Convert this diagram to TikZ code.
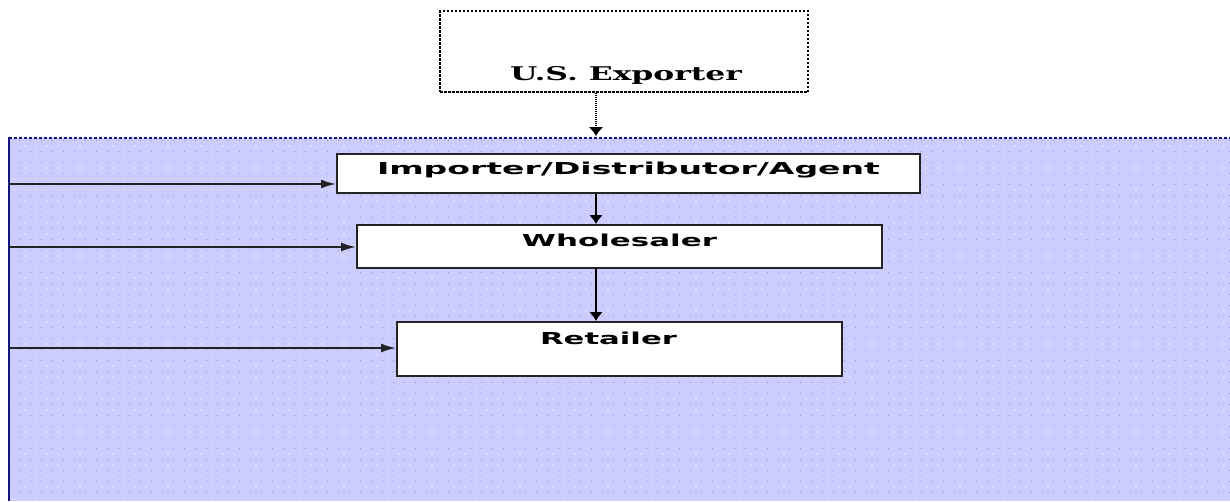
\documentclass[tikz,border=0pt]{standalone}
\usepackage{fontspec}
\usepackage{graphicx}
\usetikzlibrary{arrows.meta,patterns}
\newfontfamily\boxfont{DejaVu Sans}
\newfontfamily\expfont{DejaVu Serif}
\definecolor{bgblue}{RGB}{204,204,255}
\definecolor{dotblue}{RGB}{150,150,240}
\definecolor{navyline}{RGB}{20,20,130}
\definecolor{boxline}{RGB}{35,35,35}
\pgfdeclarepatternformonly{bgdotsA}{\pgfqpoint{-1pt}{-1pt}}{\pgfqpoint{12pt}{12pt}}{\pgfqpoint{11pt}{11pt}}{\pgfpathcircle{\pgfqpoint{3pt}{3pt}}{0.7pt}\pgfusepath{fill}}
\pgfdeclarepatternformonly{bgdotsB}{\pgfqpoint{-1pt}{-1pt}}{\pgfqpoint{12pt}{12pt}}{\pgfqpoint{11pt}{11pt}}{\pgfpathcircle{\pgfqpoint{8.5pt}{8.5pt}}{0.7pt}\pgfusepath{fill}}
\tikzset{
  flowbox/.style={draw=boxline, line width=2pt, fill=white, inner sep=0pt},
  exbox/.style={draw=black, line width=1.5pt, dash pattern=on 2.5pt off 1.5pt, fill=white, inner sep=0pt},
  hconn/.style={draw=boxline, line width=1.8pt, -{Latex[length=15pt,width=9pt]}},
  vconn/.style={draw=black, line width=1.8pt, -{Latex[length=9pt,width=14pt]}},
  exconn/.style={draw=black, line width=2.5pt, dash pattern=on 1pt off 1pt, -{Latex[length=9pt,width=15pt]}}
}
\begin{document}
\begin{tikzpicture}[x=1pt,y=-1pt]
\useasboundingbox (0,0) rectangle (1230,501);
% background region
\fill[bgblue] (9,138) rectangle (1230,501);
\fill[pattern=bgdotsA, pattern color=white] (9,138) rectangle (1230,501);
\fill[pattern=bgdotsB, pattern color=dotblue] (9,138) rectangle (1230,501);
\draw[navyline, line width=2pt, dash pattern=on 3pt off 2pt] (9,138) -- (1230,138);
\draw[navyline, line width=2pt] (9,137) -- (9,501);
% boxes
\node[exbox, minimum width=368pt, minimum height=81pt,
  label={[anchor=base, xshift=2pt, yshift=-24pt]center:\resizebox{232pt}{14pt}{\expfont\bfseries U.S. Exporter}}] (exp) at (624,51.5) {};
\node[flowbox, minimum width=583pt, minimum height=39pt,
  label={[anchor=base, yshift=-21pt]north:\resizebox{503pt}{12.5pt}{\boxfont\bfseries Importer/Distributor/Agent}}] (imp) at (628.5,173.5) {};
\node[flowbox, minimum width=525pt, minimum height=43pt,
  label={[anchor=base, yshift=-22pt]north:\resizebox{195pt}{12.5pt}{\boxfont\bfseries Wholesaler}}] (whl) at (619.5,246.5) {};
\node[flowbox, minimum width=445pt, minimum height=54pt,
  label={[anchor=base, xshift=-11pt, yshift=-23pt]north:\resizebox{137pt}{12.5pt}{\boxfont\bfseries Retailer}}] (ret) at (619.5,349) {};
% connector coordinates
\coordinate (top) at (596,136);
\coordinate (L1) at (9,184);
\coordinate (L2) at (9,247);
\coordinate (L3) at (9,348);
% connectors
\draw[exconn] (exp.south -| top) -- (top);
\draw[vconn] (imp.south -| top) -- (whl.north -| top);
\draw[vconn] (whl.south -| top) -- (ret.north -| top);
\draw[hconn] (L1) -- (L1 -| imp.west);
\draw[hconn] (L2) -- (L2 -| whl.west);
\draw[hconn] (L3) -- (L3 -| ret.west);
\end{tikzpicture}
\end{document}
